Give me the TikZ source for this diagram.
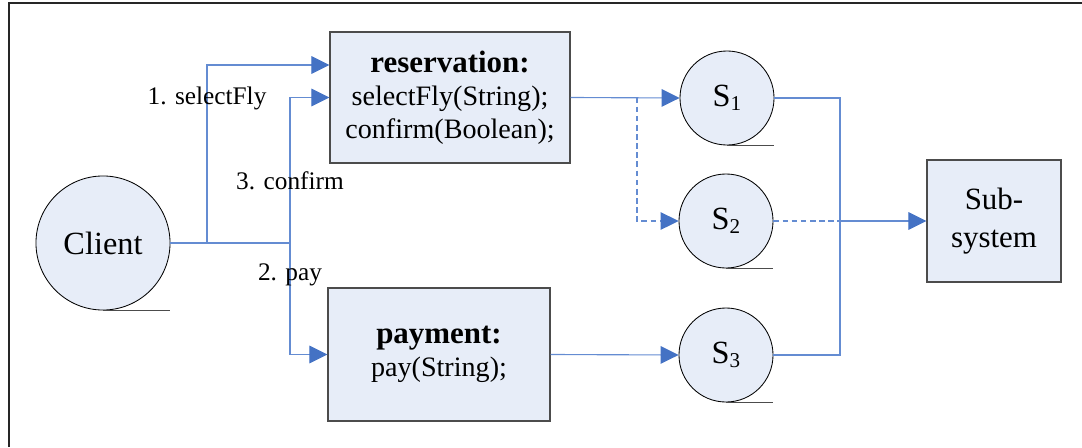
\documentclass[tikz,border=0pt]{standalone}
\usepackage{fontspec}
\setmainfont{Liberation Serif}
\usetikzlibrary{arrows.meta}
\definecolor{flowblue}{RGB}{68,114,196}
\definecolor{lineblue}{RGB}{100,140,210}
\definecolor{paleblue}{RGB}{231,237,248}
\newcommand{\lowidx}[1]{\raisebox{-0.12em}{\fontsize{15}{15}\selectfont #1}}

\begin{document}
\begin{tikzpicture}[x=0.025cm,y=-0.025cm,
  proc/.style={draw=black!70,line width=0.8pt,fill=paleblue,align=center,inner sep=0pt,font=\fontsize{20}{23.5}\selectfont},
  store/.style={circle,draw=black,line width=0.6pt,fill=paleblue,inner sep=0pt,minimum size=2.35cm,font=\fontsize{23}{26}\selectfont},
  conn/.style={lineblue,line width=0.8pt},
  arr/.style={conn,-{Triangle[length=0.45cm,width=0.44cm,color=flowblue]}},
  msg/.style={font=\fontsize{18}{20}\selectfont,inner sep=0pt}]
\useasboundingbox(0,0)rectangle(1082,447);
\draw[black!85,line width=1.3pt](9,447)--(9,3)--(1082,3);
\node[store,minimum size=3.35cm](client)at(103,243){Client};
\node[proc,minimum width=6cm,minimum height=3.275cm](res)at(450,97.5){{\fontsize{22}{24}\selectfont\bfseries reservation:}\\selectFly(String);\\confirm(Boolean);};
\node[proc,minimum width=5.55cm,minimum height=3.325cm](pay)at(439,354.5){{\fontsize{22}{24}\selectfont\bfseries payment:}\\pay(String);};
\node[proc,minimum width=3.35cm,minimum height=3.05cm,font=\fontsize{22}{27}\selectfont](sub)at(994,221){Sub-\\system};
\node[store](s1)at(727,98){S\lowidx{1}};
\node[store](s2)at(726,221){S\lowidx{2}};
\node[store](s3)at(726,355){S\lowidx{3}};
\foreach \n in {client,s1,s2,s3}
  \draw[black!70,line width=0.8pt](\n.south)--(\n.south -| \n.east);
\coordinate(fork1)at(207,243);
\coordinate(fork2)at(290,243);
\coordinate(merge)at(840,221);
\draw[conn](client.east)--(fork2);
\draw[arr](fork1)|-(res.west |- 0,65);
\draw[arr](fork2)|-(res.west);
\draw[arr](fork2)|-(pay.west);
\draw[arr](res.east)--(s1.west);
\draw[arr,dash pattern=on 4pt off 2.5pt](res.east -| 637,0)|-(s2.west);
\draw[arr](pay.east)--(s3.west);
\draw[conn](s1.east)-|(merge)|-(s3.east);
\draw[conn,dash pattern=on 4pt off 2.5pt](s2.east)--(merge);
\draw[arr](merge)--(sub.west);
\node[msg](lsel)at(207,98){1. selectFly};
\node[msg](lconf)at(290,181){3. confirm};
\node[msg](lpay)at(290,275){2. pay};
\end{tikzpicture}
\end{document}
